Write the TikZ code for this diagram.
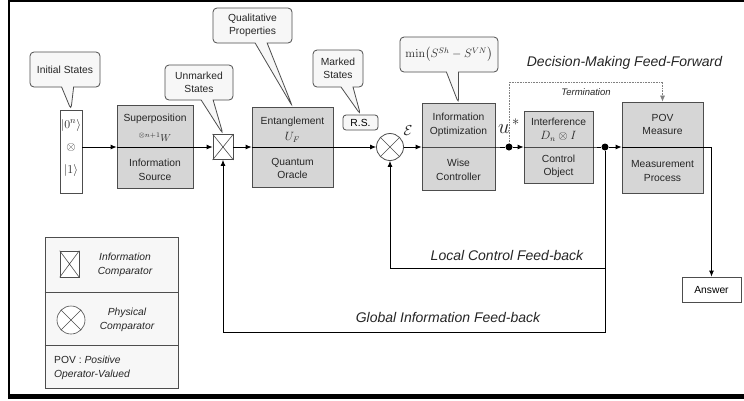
\documentclass[tikz,border=0pt]{standalone}
\usepackage[no-math]{fontspec}
\setmainfont{Liberation Sans}
\usepackage{amsmath}
\usetikzlibrary{positioning}
\usetikzlibrary{shapes.callouts}
\usetikzlibrary{arrows.meta}
\definecolor{blockgray}{HTML}{D6D6D6}
\definecolor{bubblegray}{HTML}{F7F7F7}
\definecolor{edgegray}{HTML}{4D4D4D}
\newcommand{\boxfont}{\fontsize{10.3}{13.5}\selectfont}

\begin{document}
\begin{tikzpicture}[x=1pt,y=-1pt,
  block/.style={draw=edgegray, fill=blockgray, line width=0.8pt, inner sep=0pt},
  txt/.style={font=\boxfont, align=center, inner sep=0pt, text=black!85},
  bubble/.style={rectangle callout, draw=edgegray, fill=bubblegray, line width=0.8pt,
    rounded corners=4pt, callout pointer width=12pt, font=\boxfont, align=center,
    inner sep=0pt, text=black!85},
  sig/.style={-{Latex[length=6pt,width=5pt]}, line width=0.8pt},
  wire/.style={line width=0.8pt},
  loopname/.style={font=\fontsize{14}{16}\selectfont\itshape, inner sep=0pt, text=black!85},
  dot/.style={circle, fill=black, inner sep=0pt, minimum size=7pt}
]

\useasboundingbox[fill=white] (0,0) rectangle (744,400);

% frame
\draw[line width=2.5pt] (745,1) -| (9,396);
\draw[line width=5pt] (7.75,396.5) -- (745,396.5);

% blocks
\node[draw=edgegray, fill=white, line width=0.8pt, minimum width=22pt, minimum height=83pt, inner sep=0pt] (init) at (71,151.5) {};
\node[txt, font=\fontsize{13}{13}\selectfont] (ket0) at (71,125) {$\vert 0^{n}\rangle$};
\node[txt, font=\fontsize{13}{13}\selectfont] (kettimes) at (71,147) {$\otimes$};
\node[txt, font=\fontsize{13}{13}\selectfont] (ket1) at (71,170) {$\vert 1\rangle$};

\node[block, minimum width=76pt, minimum height=83pt] (superpos) at (155,147) {};
\node[txt] (superpos-t) at (155,119) {Superposition};
\node[txt] (superpos-m) at (155,137) {${}^{\otimes n+1}W$};
\node[txt] (superpos-b) at (155,170) {Information\\Source};

\node[draw=edgegray, fill=white, line width=0.8pt, minimum width=20pt, minimum height=25pt, inner sep=0pt] (infocmp) at (223,147) {};
\draw[edgegray, line width=0.6pt] (infocmp.north west) -- (infocmp.south east) (infocmp.north east) -- (infocmp.south west);

\node[block, minimum width=81pt, minimum height=80pt] (entangle) at (292.5,147) {};
\node[txt] (entangle-t) at (292.5,122) {Entanglement};
\node[txt, font=\fontsize{11.5}{12}\selectfont] (entangle-m) at (292.5,137) {$U_F$};
\node[txt] (entangle-b) at (292.5,168.5) {Quantum\\Oracle};

\node[draw=edgegray, fill=bubblegray, line width=0.8pt, rounded corners=3pt, minimum width=35pt, minimum height=15pt, inner sep=0pt, font=\boxfont] (rs) at (360.5,122.5) {R.S.};

\node[circle, draw=edgegray, fill=white, line width=0.8pt, minimum size=27pt, inner sep=0pt] (physcmp) at (390,147) {};
\draw[edgegray, line width=0.6pt] (physcmp.north west) -- (physcmp.south east) (physcmp.north east) -- (physcmp.south west);
\node[txt, font=\fontsize{15}{15}\selectfont] (eps) at (408,131) {$\mathcal{E}$};

\node[block, minimum width=73pt, minimum height=87pt] (infoopt) at (458.5,147) {};
\node[txt] (infoopt-t) at (458.5,125) {Information\\Optimization};
\node[txt] (infoopt-b) at (458.5,170) {Wise\\Controller};

\node[dot] (udot) at (509,147) {};
\node[txt, font=\fontsize{20}{20}\selectfont] (ustar) at (509,126) {$u^{\,*}$};

\node[block, minimum width=69pt, minimum height=72pt] (interf) at (558.5,147) {};
\node[txt] (interf-t) at (558.5,122) {Interference};
\node[txt, font=\fontsize{11.5}{12}\selectfont] (interf-m) at (558.5,136) {$D_n \otimes I$};
\node[txt] (interf-b) at (558.5,166.5) {Control\\Object};

\node[dot] (fbdot) at (605,147) {};

\node[block, minimum width=81pt, minimum height=91pt] (pov) at (662.5,147.5) {};
\node[txt] (pov-t) at (662.5,124.5) {POV\\Measure};
\node[txt] (pov-b) at (662.5,171) {Measurement\\Process};

\node[draw=edgegray, fill=white, line width=0.8pt, minimum width=59pt, minimum height=25pt, inner sep=0pt, font=\boxfont] (answer) at (711.5,289.5) {Answer};

% callouts
\node[bubble, minimum width=70pt, minimum height=35pt, callout absolute pointer=(init.north)] (initcall) at (65,69.5) {Initial States};
\node[bubble, minimum width=68pt, minimum height=35pt, callout absolute pointer=(infocmp.north)] (unmarkcall) at (199,82.5) {Unmarked\\States};
\node[bubble, minimum width=79pt, minimum height=35pt, callout absolute pointer=(entangle.north)] (qualcall) at (252.5,25.5) {Qualitative\\Properties};
\node[bubble, minimum width=50pt, minimum height=37pt, callout absolute pointer=(rs.north)] (markcall) at (338,68.5) {Marked\\States};
\node[bubble, minimum width=98pt, minimum height=35pt, font=\fontsize{12}{13}\selectfont, callout absolute pointer=(infoopt.north)] (mincall) at (449,54.5) {$\min\bigl(S^{Sh}-S^{VN}\bigr)$};

% signal path
\draw[sig] (init.east |- superpos.west) -- (superpos.west);
\draw[wire] (superpos.west) -- (superpos.east);
\draw[sig] (superpos.east) -- (infocmp.west);
\draw[sig] (infocmp.east) -- (entangle.west);
\draw[wire] (entangle.west) -- (entangle.east);
\draw[sig] (entangle.east) -- (physcmp.west);
\draw[sig] (physcmp.east) -- (infoopt.west);
\draw[wire] (infoopt.west) -- (infoopt.east) -- (udot);
\draw[sig] (udot) -- (interf.west);
\draw[wire] (interf.west) -- (interf.east) -- (fbdot);
\draw[sig] (fbdot) -- (pov.west |- fbdot);
\coordinate (outcorner) at (711.5,147);
\draw[wire] (pov.west |- fbdot) -- (outcorner);
\draw[sig] (outcorner) -- (answer.north);

% feedback loops
\coordinate (localcorner) at (390,268);
\coordinate (globalcorner) at (223,332);
\draw[sig] (fbdot) |- (localcorner) -- (physcmp.south);
\draw[sig] (fbdot) |- (globalcorner) -- (infocmp.south);

% termination
\coordinate (termcorner) at (662.5,82);
\draw[-{Latex[length=6pt,width=5pt]}, gray, densely dotted, line width=0.6pt] (udot) |- (termcorner) -- (pov.north);
\node[txt, font=\fontsize{9.5}{11}\selectfont\itshape] (termlabel) at (586,92) {Termination};

% loop names
\node[loopname] (fflabel) at (624.5,63) {Decision-Making Feed-Forward};
\node[loopname] (locallabel) at (507,255) {Local Control Feed-back};
\node[loopname] (globallabel) at (448,317) {Global Information Feed-back};

% legend
\node[draw=edgegray, fill=bubblegray, line width=0.8pt, minimum width=133pt, minimum height=151pt, inner sep=0pt] (legend) at (111.5,312.5) {};
\draw[wire, edgegray] (legend.west |- 0,292) -- (legend.east |- 0,292);
\draw[wire, edgegray] (legend.west |- 0,345) -- (legend.east |- 0,345);
\node[draw=edgegray, fill=white, line width=0.6pt, minimum width=19pt, minimum height=26pt, inner sep=0pt] (keybox) at (69.5,264) {};
\draw[edgegray, line width=0.6pt] (keybox.north west) -- (keybox.south east) (keybox.north east) -- (keybox.south west);
\node[txt, font=\boxfont\itshape] (keyinfo) at (125,265) {Information\\Comparator};
\node[circle, draw=edgegray, fill=white, line width=0.6pt, minimum size=28pt, inner sep=0pt] (keycirc) at (71,320) {};
\draw[edgegray, line width=0.6pt] (keycirc.north west) -- (keycirc.south east) (keycirc.north east) -- (keycirc.south west);
\node[txt, font=\boxfont\itshape] (keyphys) at (127,320) {Physical\\Comparator};
\node[txt, anchor=west, align=left] (keypov) at (54,368) {POV : \textit{Positive}\\\textit{Operator-Valued}};

\end{tikzpicture}
\end{document}
